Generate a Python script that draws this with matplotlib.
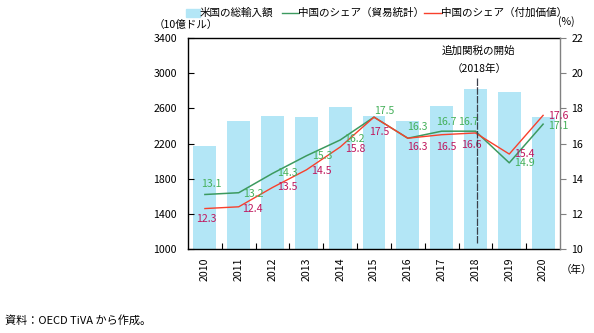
import matplotlib.pyplot as plt
from matplotlib.lines import Line2D
from matplotlib.patches import Rectangle

plt.rcParams['font.family'] = ['Noto Sans CJK JP', 'DejaVu Sans']

years = ['2010', '2011', '2012', '2013', '2014', '2015', '2016', '2017', '2018', '2019', '2020']
us_imports = [2170, 2455, 2515, 2505, 2610, 2515, 2455, 2625, 2815, 2790, 2505]
share_trade = [13.1, 13.2, 14.3, 15.3, 16.2, 17.5, 16.3, 16.7, 16.7, 14.9, 17.1]
share_va = [12.3, 12.4, 13.5, 14.5, 15.8, 17.5, 16.3, 16.5, 16.6, 15.4, 17.6]

# label offsets in pixels (dx, dy up)
trade_offsets = [(6, 10), (15, -1), (15, 0), (16, 0), (14, 1), (10, 6),
                 (10, 11), (5, 9), (-7, 9), (15, 0), (15, -2)]
va_offsets = [(1, -10), (14, -2), (15, 0), (15, -1), (15, -2), (5, -15),
              (10, -9), (5, -12), (-4, -12), (15, 0), (15, -1)]

bar_color = '#b3e6f6'
green_line = '#3c9a5f'
red_line = '#f8402c'
green_text = '#45b05a'
red_text = '#c0185e'
fs = 7.6

fig = plt.figure(figsize=(5.94, 3.33), dpi=100)
ax = fig.add_axes([188 / 594, 1 - 249 / 333, 372 / 594, 211 / 333])
x = list(range(len(years)))

ax.bar(x, us_imports, width=0.68, color=bar_color, zorder=1)
ax.set_xlim(-0.5, 10.5)
ax.set_ylim(1000, 3400)
ax.set_yticks(range(1000, 3401, 400))
ax.set_xticks(x)
ax.set_xticklabels(years, rotation=90, fontsize=fs)
ax.set_xticks([i + 0.5 for i in range(10)], minor=True)
ax.tick_params(axis='x', which='major', length=0, pad=6)
ax.tick_params(axis='x', which='minor', direction='in', length=4, width=0.8)
ax.tick_params(axis='y', direction='in', length=4, width=0.8, labelsize=fs, pad=8)
for s in ['left', 'bottom', 'top']:
    ax.spines[s].set_linewidth(1.0)
ax.spines['right'].set_visible(False)

ax2 = ax.twinx()
ax2.set_ylim(10, 22)
ax2.set_yticks(range(10, 23, 2))
ax2.tick_params(axis='y', direction='out', length=4, width=0.8, labelsize=fs,
                color='#808080', pad=4)
ax2.spines['right'].set_color('#808080')
ax2.spines['right'].set_linewidth(1.0)
for s in ['left', 'bottom', 'top']:
    ax2.spines[s].set_visible(False)

ax2.plot(x, share_trade, color=green_line, lw=1.1, zorder=3)
ax2.plot(x, share_va, color=red_line, lw=1.0, zorder=3)

for i, v in enumerate(share_trade):
    dx, dy = trade_offsets[i]
    ax2.annotate(f'{v:.1f}', (i, v), xytext=(dx, dy), textcoords='offset pixels',
                 ha='center', va='center', fontsize=fs, color=green_text)
for i, v in enumerate(share_va):
    dx, dy = va_offsets[i]
    ax2.annotate(f'{v:.1f}', (i, v), xytext=(dx, dy), textcoords='offset pixels',
                 ha='center', va='center', fontsize=fs, color=red_text)

# start of additional tariffs
ax2.vlines(8.05, 10.34, 19.74, color='#3a3f4a', lw=0.9, linestyles=(0, (6, 1)), zorder=4)
ax2.text(8.1, 21.28, '追加関税の開始', ha='center', va='center', fontsize=fs)
ax2.text(8.1, 20.22, '（2018年）', ha='center', va='center', fontsize=fs)

# units
fig.text(186 / 594, 1 - 25 / 333, '（10億ドル）', ha='center', va='center', fontsize=fs)
fig.text(566 / 594, 1 - 22 / 333, '(%)', ha='center', va='center', fontsize=fs)
fig.text(561 / 594, 1 - 270 / 333, '（年）', ha='left', va='center', fontsize=fs)

# legend row
ly = 1 - 13 / 333
fig.add_artist(Rectangle((186 / 594, 1 - 17 / 333), 14 / 594, 8 / 333,
                         transform=fig.transFigure, color=bar_color))
fig.text(200 / 594, ly, '米国の総輸入額', ha='left', va='center', fontsize=fs)
fig.add_artist(Line2D([282 / 594, 298 / 594], [ly, ly], color=green_line, lw=1.0))
fig.text(298 / 594, ly, '中国のシェア（貿易統計）', ha='left', va='center', fontsize=fs)
fig.add_artist(Line2D([424 / 594, 441 / 594], [ly, ly], color=red_line, lw=1.0))
fig.text(441 / 594, ly, '中国のシェア（付加価値）', ha='left', va='center', fontsize=fs)

fig.text(5 / 594, 1 - 320 / 333, '資料：OECD TiVA から作成。', ha='left', va='center', fontsize=8)

fig.savefig('out.png', dpi=100)
